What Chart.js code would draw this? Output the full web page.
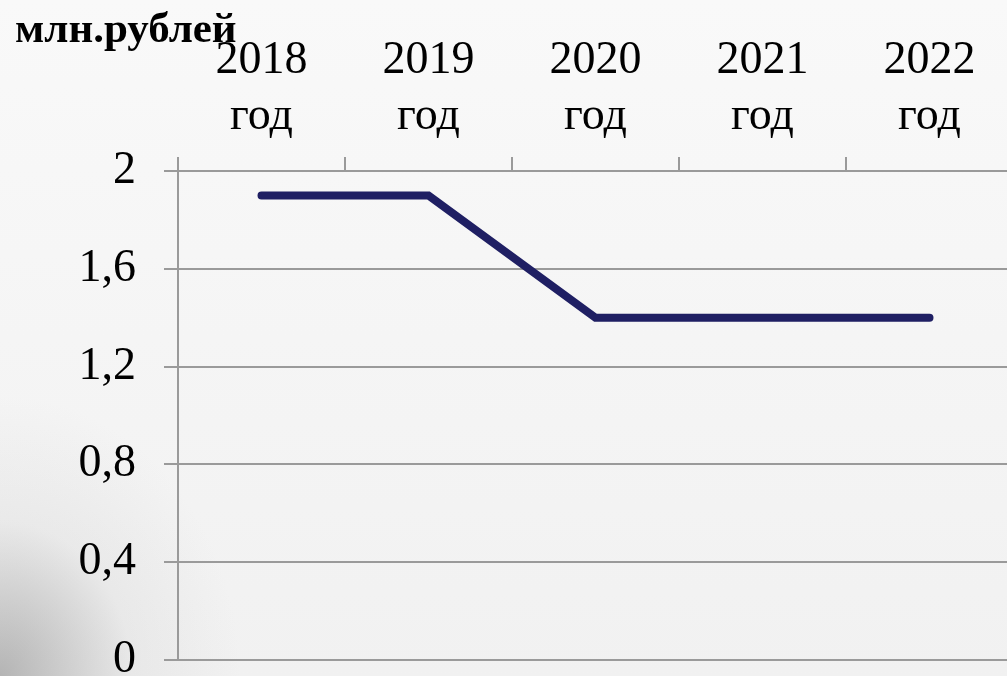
<!DOCTYPE html>
<html>
<head>
<meta charset="utf-8">
<script src="https://cdn.jsdelivr.net/npm/chart.js@4"></script>
<style>
	html, body {
		margin: 0;
		padding: 0;
		width: 1007px;
		height: 676px;
		overflow: hidden;
		background-color: #f8f8f8;
		background-image:
			radial-gradient(ellipse 240px 280px at 0% 100%, rgba(120,120,120,0.5), rgba(200,200,200,0.22) 55%, rgba(248,248,248,0) 100%),
			linear-gradient(to bottom, #f9f9f9, #f1f1f1);
	}
	#lineChart {
		position: absolute;
		left: 0;
		top: 0;
	}
	#unit {
		position: absolute;
		left: 15px;
		top: 6px;
		line-height: 1;
		font-family: "Liberation Serif", "Times New Roman", serif;
		font-weight: bold;
		font-size: 43px;
		color: #000;
	}
</style>
</head>
<body>
<canvas id="lineChart" width="1020" height="676"></canvas>
<div id="unit">млн.рублей</div>
<script>
const years = ["2018", "2019", "2020", "2021", "2022"];
const values = [1.9, 1.9, 1.4, 1.4, 1.4];
const yTicks = [0, 0.4, 0.8, 1.2, 1.6, 2];

const ctx = document.getElementById("lineChart");
const serif = "'Liberation Serif', 'Times New Roman', serif";

new Chart(ctx, {
	type: "line",
	data: {
		labels: years.map((y) => [y, "год"]),
		datasets: [
			{
				data: values,
				borderColor: "#1f1f63",
				borderWidth: 8,
				borderCapStyle: "round",
				borderJoinStyle: "miter",
				pointRadius: 0,
				tension: 0,
			},
		],
	},
	options: {
		responsive: false,
		animation: false,
		layout: {
			padding: { left: 0, right: 7, top: 0, bottom: 16 },
		},
		plugins: {
			legend: { display: false },
			tooltip: { enabled: false },
		},
		scales: {
			x: {
				position: "top",
				offset: true,
				afterFit: (scale) => {
					scale.height = 171;
					scale.paddingLeft = 0;
					scale.paddingRight = 0;
				},
				grid: {
					offset: true,
					drawOnChartArea: false,
					drawTicks: true,
					tickLength: 14,
					color: "#9a9a9a",
					lineWidth: 2,
				},
				border: { color: "#9a9a9a", width: 2 },
				ticks: {
					color: "#000",
					padding: 12,
					maxRotation: 0,
					font: { family: serif, size: 46, lineHeight: 1.22 },
				},
			},
			y: {
				min: 0,
				max: 2,
				afterFit: (scale) => {
					scale.width = 178;
					scale.paddingTop = 0;
					scale.paddingBottom = 0;
				},
				afterBuildTicks: (scale) => {
					scale.ticks = yTicks.map((v) => ({ value: v }));
				},
				grid: {
					drawTicks: true,
					tickLength: 14,
					color: "#9a9a9a",
					lineWidth: 2,
				},
				border: { color: "#9a9a9a", width: 2 },
				ticks: {
					color: "#000",
					padding: 28,
					font: { family: serif, size: 46 },
					callback: (v) => String(v).replace(".", ","),
				},
			},
		},
	},
});
</script>
</body>
</html>
